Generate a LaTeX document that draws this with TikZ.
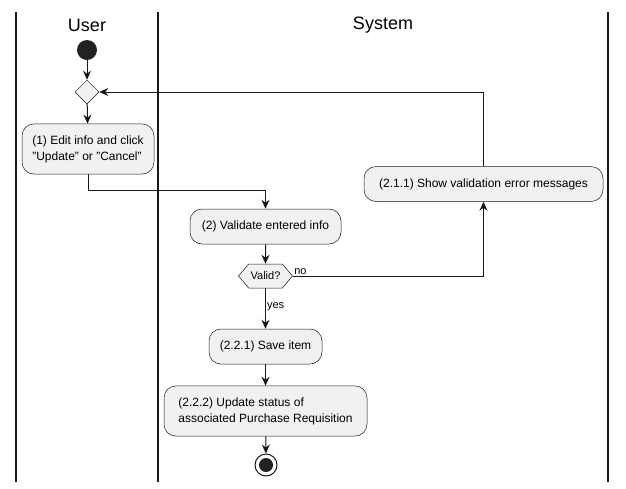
\documentclass[tikz,border=0pt]{standalone}
\usepackage{fontspec}
\setmainfont{Liberation Sans}
\usetikzlibrary{shapes.geometric,shapes.symbols,arrows.meta,positioning}
\definecolor{actfill}{HTML}{F1F1F1}
\definecolor{actline}{HTML}{181818}
\definecolor{startfill}{HTML}{222222}
\begin{document}
\begin{tikzpicture}[x=1pt, y=-1pt, >={Stealth[length=9pt,width=8pt,inset=3pt]}]
        \tikzstyle{every node}=[font=\fontsize{12}{16}\selectfont]
        \tikzstyle{lane}=[line width=1.5pt, draw=actline]
        \tikzstyle{lanetitle}=[font=\fontsize{18}{22}\selectfont, text=black]
        \tikzstyle{activity}=[rectangle, rounded corners=12pt, draw=actline, fill=actfill, line width=0.5pt, align=left, inner xsep=10pt, inner ysep=11.5pt, minimum height=35pt]
        \tikzstyle{flow}=[->, line width=1pt, draw=actline]
        \tikzstyle{guard}=[font=\fontsize{11}{13}\selectfont, inner sep=1pt]
        \useasboundingbox (0,0) rectangle (626,488);
        \draw [lane] (16,12) -- (16,482); \draw [lane] (158,12) -- (158,482); \draw [lane] (608,12) -- (608,482);
        \node [lanetitle] (usertitle) at (87,25) {User};
        \node [lanetitle] (systitle) at (383,25) {System};
        \node [circle, fill=startfill, minimum size=20pt, inner sep=0pt] (start) at (87,50) {};
        \node [diamond, draw=actline, fill=actfill, line width=0.5pt, minimum width=24pt, minimum height=24pt, inner sep=0pt] (merge) at (87,92) {};
        \node [activity, minimum width=132pt] (edit) at (88,149) {(1) Edit info and click\\"Update" or "Cancel"};
        \node [activity, minimum width=151pt] (validate) at (265.5,226.5) {(2) Validate entered info};
        \node [signal, signal to=west and east, signal pointer angle=100, draw=actline, fill=actfill, line width=0.5pt, font=\fontsize{11}{13}\selectfont, inner xsep=2pt, inner ysep=0pt, minimum height=24pt] (valid) at (265.5,276) {Valid?};
        \node [activity, minimum width=239pt] (showerr) at (483.5,184) {(2.1.1) Show validation error messages};
        \node [activity, minimum width=113pt] (save) at (265.5,346.5) {(2.2.1) Save item};
        \node [activity, minimum width=203pt] (update) at (265.5,411) {(2.2.2) Update status of\\associated Purchase Requisition};
        \node [circle, draw=actline, fill=white, line width=1pt, minimum size=22pt, inner sep=0pt] (stop) at (266,465) {};
        \fill [startfill] (stop.center) circle (7pt);
        \draw [flow] (start) -- (merge);
        \draw [flow] (merge) -- (edit);
        \draw [flow] (edit.south) -- ([yshift=-16pt]edit.south) -| (validate.north);
        \draw [flow] (validate) -- (valid);
        \draw [flow] (valid.east) -| node [guard, at start, anchor=south west] {no} (showerr.south);
        \draw [flow] (showerr.north) |- (merge.east);
        \draw [flow] (valid.south) -- node [guard, right, pos=0.45] {yes} (save.north);
        \draw [flow] (save) -- (update);
        \draw [flow] (update) -- (stop);
\end{tikzpicture}
\end{document}
